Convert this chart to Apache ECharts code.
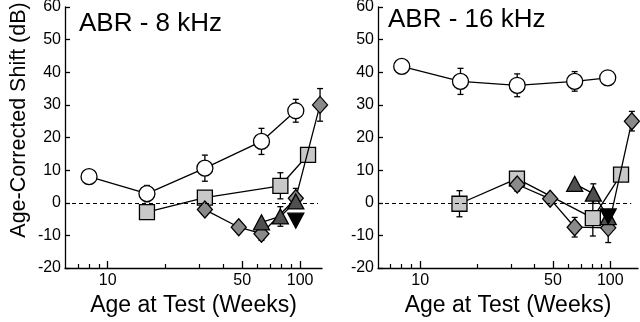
<!DOCTYPE html>
<html>
<head>
<meta charset="utf-8">
<script src="https://cdn.jsdelivr.net/npm/echarts@6/dist/echarts.min.js"></script>
<style>
  html, body { margin: 0; padding: 0; background: #fff; }
  #chart { width: 640px; height: 322px; }
</style>
</head>
<body>
<div id="chart"></div>
<script>
// ABR 8 kHz (left panel)
const ageCircle8 = [8, 16, 32, 63, 95];
const shiftCircle8 = [8, 2.8, 10.6, 18.8, 28.2];
const errCircle8 = [0, 2.5, 4, 4, 3.5];

const ageSquare8 = [16, 32, 79, 110];
const shiftSquare8 = [-2.9, 1.6, 5.2, 14.7];
const errSquare8 = [0, 0, 4, 0];

const ageDiamond8 = [32, 48, 63, 95, 127];
const shiftDiamond8 = [-2.1, -7.5, -9.5, 1.4, 30];
const errDiamond8 = [0, 0, 2, 3, 5];

const ageTri8 = [63, 79, 95];
const shiftTri8 = [-6, -4.2, 0.4];
const errTri8 = [0, 3, 0];

const ageInv8 = [95];
const shiftInv8 = [-5.5];

// ABR 16 kHz (right panel)
const ageCircle16 = [8, 16.3, 32.4, 65, 97];
const shiftCircle16 = [41.8, 37.2, 36, 37.2, 38.3];
const errCircle16 = [0, 4, 3.5, 3, 2];

const ageSquare16 = [16.1, 32.3, 81, 114];
const shiftSquare16 = [-0.3, 7.4, -4.7, 8.6];
const errSquare16 = [4, 2, 5.5, 0];

const ageDiamond16 = [32.4, 48.3, 65, 97.6, 130];
const shiftDiamond16 = [5.6, 1.2, -7.5, -7.7, 25];
const errDiamond16 = [2, 0, 3, 4.5, 3];

const ageTri16 = [65, 81.5, 97.6];
const shiftTri16 = [5.8, 2.8, -4.4];
const errTri16 = [0, 3, 0];

const ageInv16 = [97.6];
const shiftInv16 = [-4.2];

const majorTicks = [10, 50, 100];
const minorTicks = [7, 8, 9, 20, 30, 40, 60, 70, 80, 90];

const FONT = 'Liberation Sans, Arial, sans-serif';

const pts = (xs, ys) => xs.map((x, i) => [x, ys[i]]);
const errPts = (xs, ys, es) => xs.map((x, i) => [x, ys[i], es[i]]).filter(d => d[2] > 0);

// 误差线
const errorSeries = (data, idx) => ({
    type: 'custom',
    xAxisIndex: idx * 2,
    yAxisIndex: idx,
    z: 1,
    silent: true,
    data: data,
    renderItem: (params, api) => {
        const x = api.value(0), y = api.value(1), e = api.value(2);
        const top = api.coord([x, y + e]);
        const bot = api.coord([x, y - e]);
        const w = 3;
        const style = { stroke: '#000', lineWidth: 1.3 };
        return {
            type: 'group',
            children: [
                { type: 'line', shape: { x1: top[0], y1: top[1], x2: bot[0], y2: bot[1] }, style },
                { type: 'line', shape: { x1: top[0] - w, y1: top[1], x2: top[0] + w, y2: top[1] }, style },
                { type: 'line', shape: { x1: bot[0] - w, y1: bot[1], x2: bot[0] + w, y2: bot[1] }, style }
            ]
        };
    }
});

const markerSeries = (data, idx, symbol, color, size, z) => ({
    type: 'line',
    xAxisIndex: idx * 2,
    yAxisIndex: idx,
    data: data,
    symbol: symbol,
    symbolSize: size,
    showAllSymbol: true,
    z: z,
    lineStyle: { color: '#000', width: 1.3 },
    itemStyle: { color: color, borderColor: '#000', borderWidth: 1.3 },
    emphasis: { disabled: true },
    animation: false
});

const triUp = 'path://M5,0 L10,9 L0,9 Z';
const triDown = 'path://M0,0 L10,0 L5,9 Z';

const panel = (idx, s) => [
    errorSeries(errPts(s.ac, s.sc, s.ec), idx),
    errorSeries(errPts(s.as, s.ss, s.es), idx),
    errorSeries(errPts(s.ad, s.sd, s.ed), idx),
    errorSeries(errPts(s.at, s.st, s.et), idx),
    Object.assign(markerSeries(pts(s.as, s.ss), idx, 'rect', '#c8c8c8', 15, 3), {
        markLine: {
            silent: true,
            symbol: 'none',
            label: { show: false },
            lineStyle: { color: '#000', type: [4, 3], width: 1.2 },
            data: [[{ coord: [6, 0] }, { coord: [s.dashEnd, 0] }]]
        }
    }),
    markerSeries(pts(s.ad, s.sd), idx, 'diamond', '#8a8a8a', [15, 17], 4),
    markerSeries(pts(s.at, s.st), idx, triUp, '#505050', [16, 15], 5),
    markerSeries(pts(s.ai, s.si), idx, triDown, '#000', [16, 15], 6),
    markerSeries(pts(s.ac, s.sc), idx, 'circle', '#fff', 16, 7)
];

const xAxisPair = (gridIndex, max) => [
    {
        type: 'log', gridIndex, min: 6, max: max, logBase: 10, position: 'bottom',
        name: 'Age at Test (Weeks)', nameLocation: 'middle', nameGap: 24,
        nameTextStyle: { fontFamily: FONT, fontSize: 23, color: '#000' },
        axisLine: { onZero: false, lineStyle: { color: '#000', width: 1.3 } },
        axisTick: { inside: true, length: 7, customValues: majorTicks, lineStyle: { color: '#000', width: 1.3 } },
        axisLabel: { customValues: majorTicks, fontFamily: FONT, fontSize: 16, color: '#000', margin: 5 },
        splitLine: { show: false }
    },
    {
        type: 'log', gridIndex, min: 6, max: max, logBase: 10, position: 'bottom',
        axisLine: { show: false, onZero: false },
        axisTick: { inside: true, length: 4, customValues: minorTicks, lineStyle: { color: '#000', width: 1.2 } },
        axisLabel: { show: false },
        splitLine: { show: false }
    }
];

const yAxisDef = (gridIndex) => ({
    type: 'value', gridIndex, min: -20, max: 60, interval: 10,
    axisLine: { show: true, onZero: false, lineStyle: { color: '#000', width: 1.3 } },
    axisTick: { show: true, inside: true, length: 5, lineStyle: { color: '#000', width: 1.3 } },
    axisLabel: { fontFamily: FONT, fontSize: 16, color: '#000', margin: 4 },
    splitLine: { show: false }
});

const chart = echarts.init(document.getElementById('chart'), null, { renderer: 'canvas' });
chart.setOption({
    animation: false,
    backgroundColor: '#fff',
    title: [
        { text: 'ABR - 8 kHz', left: 74, top: 6, textStyle: { fontFamily: FONT, fontSize: 26, fontWeight: 'normal', color: '#000' } },
        { text: 'ABR - 16 kHz', left: 383, top: 2, textStyle: { fontFamily: FONT, fontSize: 26, fontWeight: 'normal', color: '#000' } }
    ],
    graphic: [{
        type: 'text',
        x: 8, y: 120,
        rotation: Math.PI / 2,
        style: {
            text: 'Age-Corrected Shift (dB)',
            font: '21.5px ' + FONT,
            fill: '#000',
            align: 'center',
            verticalAlign: 'top'
        }
    }],
    grid: [
        { left: 65, top: 7, width: 257, height: 261, outerBoundsMode: 'none' },
        { left: 378, top: 7, width: 260, height: 261, outerBoundsMode: 'none' }
    ],
    xAxis: [...xAxisPair(0, 130), ...xAxisPair(1, 140)],
    yAxis: [yAxisDef(0), yAxisDef(1)],
    series: [
        ...panel(0, {
            ac: ageCircle8, sc: shiftCircle8, ec: errCircle8,
            as: ageSquare8, ss: shiftSquare8, es: errSquare8,
            ad: ageDiamond8, sd: shiftDiamond8, ed: errDiamond8,
            at: ageTri8, st: shiftTri8, et: errTri8,
            ai: ageInv8, si: shiftInv8,
            dashEnd: 124
        }),
        ...panel(1, {
            ac: ageCircle16, sc: shiftCircle16, ec: errCircle16,
            as: ageSquare16, ss: shiftSquare16, es: errSquare16,
            ad: ageDiamond16, sd: shiftDiamond16, ed: errDiamond16,
            at: ageTri16, st: shiftTri16, et: errTri16,
            ai: ageInv16, si: shiftInv16,
            dashEnd: 129
        })
    ]
});
</script>
</body>
</html>
